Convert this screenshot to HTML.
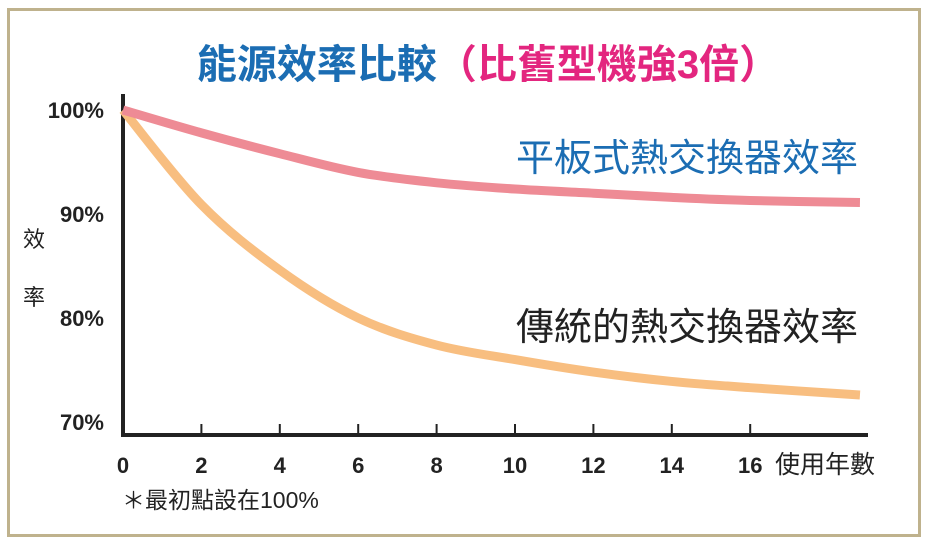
<!DOCTYPE html>
<html><head><meta charset="utf-8"><style>
body{margin:0;background:#fff;}
svg text{font-family:"Liberation Sans","Noto Sans CJK TC",sans-serif;}
</style></head><body>
<svg width="930" height="543" viewBox="0 0 930 543">
<rect x="8.5" y="9.5" width="911" height="526" fill="#fff" stroke="#bfb28d" stroke-width="3"/>
<text x="488" y="78" font-size="40" font-weight="bold" text-anchor="middle"><tspan fill="#1b6db3">能源效率比較</tspan><tspan fill="#e3267f">（比舊型機強3倍）</tspan></text>
<g id="axes"></g>
<g id="series"></g>
<text x="858" y="171" font-size="38" fill="#1b6db3" text-anchor="end">平板式熱交換器效率</text>
<text x="858" y="340" font-size="38" fill="#222" text-anchor="end">傳統的熱交換器效率</text>
<text x="34" y="247" font-size="22" fill="#222" text-anchor="middle">效</text>
<text x="34" y="305" font-size="22" fill="#222" text-anchor="middle">率</text>
<text x="825" y="473" font-size="25" fill="#222" text-anchor="middle">使用年數</text>
<text x="122" y="508" font-size="23" fill="#222">＊最初點設在100%</text>
</svg>
<script>
const years=[0,2,4,6,8,10,12,14,16,18.8];
const plateValues=[100,97.8,95.8,94,93,92.4,92,91.6,91.3,91.1];
const traditionalValues=[100,90.9,84.6,80,77.4,76,74.8,73.9,73.3,72.6];
const xTicks=[0,2,4,6,8,10,12,14,16];
const yTicks=[100,90,80,70];
const NS="http://www.w3.org/2000/svg";
const xs=v=>123+v*39.2;
const ys=v=>110+(100-v)*10.4;
const axes=document.getElementById('axes'),series=document.getElementById('series');
function mk(tag,attrs,parent){const e=document.createElementNS(NS,tag);for(const k in attrs)e.setAttribute(k,attrs[k]);parent.appendChild(e);return e;}
let e=mk('line',{x1:123,y1:94,x2:123,y2:437,stroke:'#222','stroke-width':4},axes);


e=mk('line',{x1:121,y1:435,x2:868,y2:435,stroke:'#222','stroke-width':4},axes);


xTicks.forEach(t=>{
 if(t>0){const l=mk('line',{x1:xs(t),y1:424,x2:xs(t),y2:435,stroke:'#222','stroke-width':2},axes);
 
 }
 const tx=mk('text',{x:xs(t),y:473,'font-size':22,'font-weight':'bold',fill:'#222','text-anchor':'middle'},axes);
 tx.textContent=t;
 
 
});
yTicks.forEach(t=>{
 const tx=mk('text',{x:104,y:ys(t)+8,'font-size':22,'font-weight':'bold',fill:'#222','text-anchor':'end'},axes);
 tx.textContent=t+'%';
 
 
});
function curve(vals){
 const p=years.map((y,i)=>[xs(y),ys(vals[i])]);
 let d='M'+p[0][0]+','+p[0][1];
 for(let i=0;i<p.length-1;i++){
  const p0=p[i-1]||p[i],p1=p[i],p2=p[i+1],p3=p[i+2]||p2;
  const c1=[p1[0]+(p2[0]-p0[0])/6,p1[1]+(p2[1]-p0[1])/6],c2=[p2[0]-(p3[0]-p1[0])/6,p2[1]-(p3[1]-p1[1])/6];
  d+=`C${c1[0]},${c1[1]} ${c2[0]},${c2[1]} ${p2[0]},${p2[1]}`;
 }
 return d;
}
e=mk('path',{d:curve(traditionalValues),fill:'none',stroke:'#f8be80','stroke-width':9},series);


e=mk('path',{d:curve(plateValues),fill:'none',stroke:'#ee8b95','stroke-width':9},series);


</script>
</body></html>
